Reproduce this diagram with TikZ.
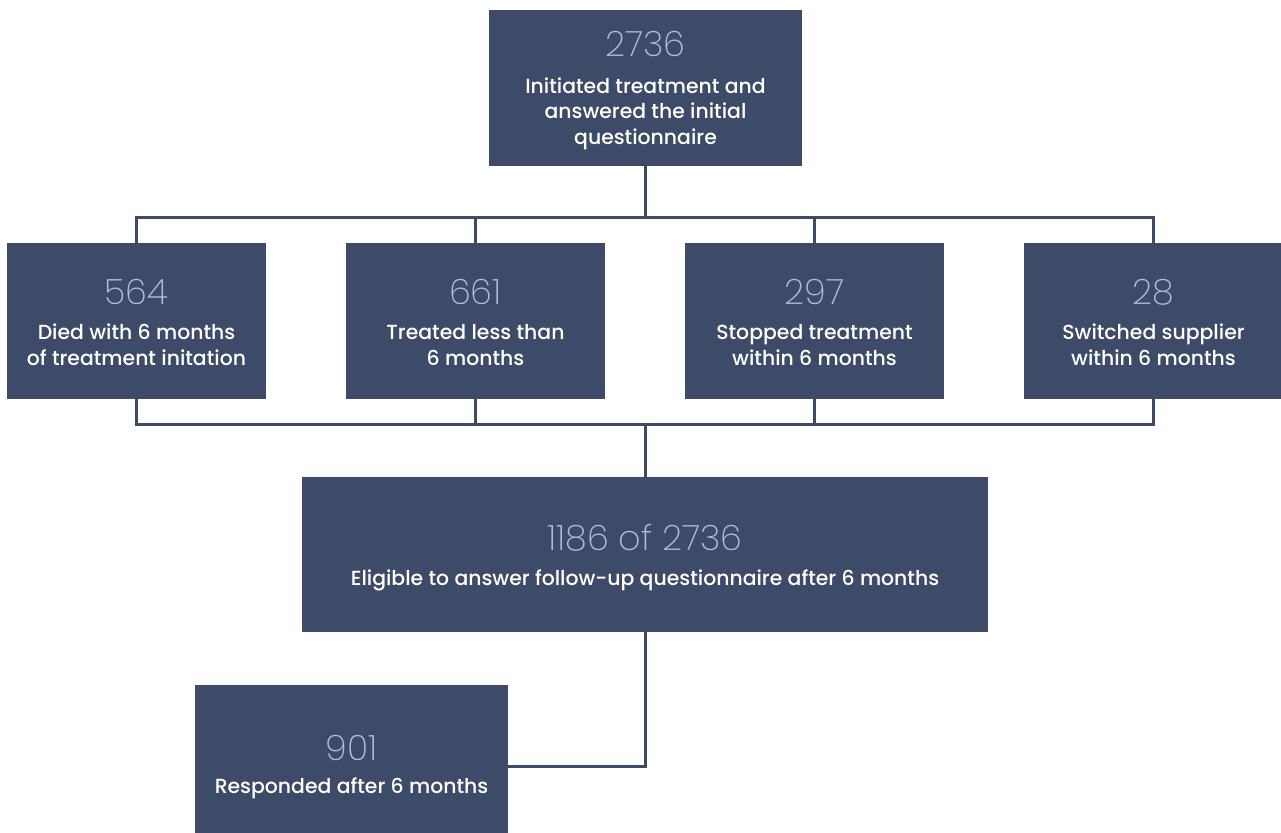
\documentclass[tikz,border=0pt]{standalone}
\usepackage{fontspec}
\setmainfont{Poppins}
\newfontfamily\numfont{Poppins ExtraLight}
\newfontfamily\labfont{Poppins Medium}
\definecolor{boxc}{HTML}{3D4B69}
\definecolor{numc}{HTML}{AEC0D8}
\begin{document}
\begin{tikzpicture}[x=1pt,y=-1pt,
  box/.style={fill=boxc, draw=none, inner sep=0pt, minimum height=156pt},
  num/.style={anchor=base, text=numc, font=\numfont\fontsize{35}{37}\selectfont, inner sep=0pt},
  lab/.style={anchor=base, text=white, align=center, font=\labfont\fontsize{20.4}{25.5}\selectfont, inner sep=0pt},
  conn/.style={draw=boxc, line width=3pt}]
\useasboundingbox (0,0) rectangle (1281,832);
% boxes
\node[box, minimum width=313pt] (top) at (645.5,88) {};
\node[box, minimum width=259pt] (b1) at (136.5,321) {};
\node[box, minimum width=259pt] (b2) at (475.5,321) {};
\node[box, minimum width=259pt] (b3) at (814.5,321) {};
\node[box, minimum width=259pt] (b4) at (1153.5,321) {};
\node[box, minimum width=686pt, minimum height=155pt] (mid) at (645,554.5) {};
\node[box, minimum width=313pt] (bot) at (351.5,763) {};
% connectors
\coordinate (j1) at (645.5,217);
\coordinate (j2) at (645,424);
\draw[conn] (top.south) -- (j1);
\draw[conn] (b1.north) |- (j1) -| (b4.north);
\draw[conn] (b2.north) -- (b2.north |- j1);
\draw[conn] (b3.north) -- (b3.north |- j1);
\draw[conn] (b1.south) |- (j2) -| (b4.south);
\draw[conn] (b2.south) -- (b2.south |- j2);
\draw[conn] (b3.south) -- (b3.south |- j2);
\draw[conn] (j2) -- (mid.north);
\draw[conn] (mid.south) |- ([yshift=-3pt]bot.east);
% texts (base anchor of multi-line text = last line)
\node[num] (t0n) at (645.5,57) {2736};
\node[lab] (t0l) at (645.5,144) {Initiated treatment and\\answered the initial\\questionnaire};
\node[num] (t1n) at (136.5,304) {564};
\node[lab] (t1l) at (136.5,365) {Died with 6 months\\of treatment initation};
\node[num] (t2n) at (475.5,304) {661};
\node[lab] (t2l) at (475.5,365) {Treated less than\\6 months};
\node[num] (t3n) at (814.5,304) {297};
\node[lab] (t3l) at (814.5,365) {Stopped treatment\\within 6 months};
\node[num] (t4n) at (1153.5,304) {28};
\node[lab] (t4l) at (1153.5,365) {Switched supplier\\within 6 months};
\node[num] (t5n) at (645,550) {1186 of 2736};
\node[lab] (t5l) at (645,585) {Eligible to answer follow-up questionnaire after 6 months};
\node[num] (t6n) at (351.5,760) {901};
\node[lab] (t6l) at (351.5,793) {Responded after 6 months};
\end{tikzpicture}
\end{document}
